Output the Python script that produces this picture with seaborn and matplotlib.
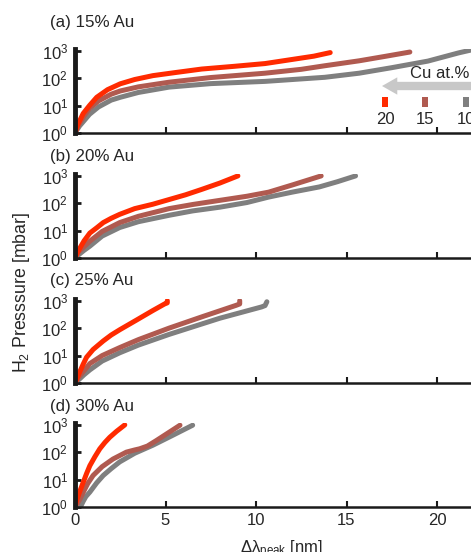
import numpy as np
import pandas as pd
import matplotlib
matplotlib.use("Agg")
import matplotlib.pyplot as plt
import seaborn as sns
from matplotlib.patches import Rectangle
from matplotlib.ticker import LogLocator, NullFormatter

sns.set_style("white")
plt.rcParams["font.family"] = ["Liberation Sans", "DejaVu Sans"]
plt.rcParams["mathtext.fontset"] = "custom"
plt.rcParams["mathtext.rm"] = "Liberation Sans"
plt.rcParams["mathtext.it"] = "Liberation Sans:italic"
plt.rcParams["mathtext.bf"] = "Liberation Sans:bold"
plt.rcParams["mathtext.default"] = "regular"

# ---------------- data ----------------
panel_titles = ["(a) 15% Au", "(b) 20% Au", "(c) 25% Au", "(d) 30% Au"]
cu_levels = ["10", "15", "20"]
cu_colors = ["#7f7f7f", "#b05a50", "#ff2a00"]
xticks = [0, 5, 10, 15, 20]
yticks = [1, 10, 100, 1000]
ytick_labels = ["$10^0$", "$10^1$", "$10^2$", "$10^3$"]

# (a) 15% Au
a_x_20 = [0, 0.15, 0.45, 0.8, 1.2, 1.8, 2.5, 3.3, 4.3, 5.5, 7.0, 8.8, 10.5, 12.0, 13.2, 14.1]
a_p_20 = [1, 2, 5.1, 10, 20, 38, 62, 89, 123, 158, 214, 269, 339, 479, 631, 851]
a_x_15 = [0, 0.2, 0.5, 0.8, 1.3, 2.0, 2.5, 3.5, 5.2, 7.5, 10.5, 12.5, 13.8, 15.7, 17.2, 18.5]
a_p_15 = [1, 2, 4.2, 7.9, 14.8, 26, 34, 48, 71, 105, 151, 209, 282, 427, 631, 891]
a_x_10 = [0, 0.25, 0.5, 0.8, 1.3, 2.0, 2.5, 3.5, 5.2, 7.5, 10.5, 13.8, 15.7, 17.5, 19.5, 21.2, 22.0]
a_p_10 = [1, 1.8, 2.8, 4.8, 8.9, 15.8, 20, 30, 47, 63, 76, 107, 151, 240, 417, 832, 1100]

# (b) 20% Au
b_x_20 = [0, 0.1, 0.27, 0.5, 0.82, 1.2, 1.56, 2.0, 2.47, 3.3, 4.3, 5.2, 6.1, 7.0, 8.0, 9.0]
b_p_20 = [1, 1.4, 2.3, 4.2, 8.1, 12.6, 19.5, 28, 39, 63, 91, 135, 200, 316, 537, 980]
b_x_15 = [0, 0.2, 0.5, 0.82, 1.5, 2.47, 3.5, 5.2, 6.5, 8.0, 9.5, 10.7, 12.0, 13.6]
b_p_15 = [1, 1.7, 2.6, 4.1, 9.3, 19.5, 33, 63, 89, 126, 178, 251, 457, 980]
b_x_10 = [0, 0.25, 0.5, 0.82, 1.5, 2.47, 3.5, 5.2, 6.5, 8.0, 9.5, 10.7, 12.0, 13.5, 14.5, 15.5]
b_p_10 = [1, 1.4, 1.9, 2.7, 6.3, 12.9, 21, 36, 52, 71, 105, 166, 251, 389, 603, 980]

# (c) 25% Au
c_x_20 = [0, 0.1, 0.27, 0.45, 0.64, 1.0, 1.56, 2.0, 2.47, 3.39, 4.3, 4.95, 5.1, 5.1]
c_p_20 = [1, 1.4, 2.6, 4.8, 8.7, 16.6, 34, 56, 87, 195, 437, 759, 832, 1000]
c_x_15 = [0, 0.2, 0.5, 0.82, 1.5, 2.47, 3.5, 5.2, 7.05, 8.9, 9.1, 9.1]
c_p_15 = [1, 1.6, 2.8, 5.1, 10, 19.5, 38, 100, 263, 676, 759, 1000]
c_x_10 = [0, 0.25, 0.5, 0.82, 1.5, 2.47, 3.5, 5.2, 8.0, 10.3, 10.5, 10.6]
c_p_10 = [1, 1.4, 2.0, 3.0, 6.3, 12.6, 24, 59, 229, 589, 661, 912]

# (d) 30% Au
d_x_20 = [0, 0.1, 0.25, 0.46, 0.64, 0.82, 1.1, 1.37, 1.65, 1.92, 2.3, 2.75]
d_p_20 = [1, 1.8, 3.5, 8.1, 16.6, 32, 68, 132, 224, 347, 575, 980]
d_x_15 = [0, 0.15, 0.3, 0.46, 0.7, 1.0, 1.5, 2.1, 2.84, 3.3, 3.57, 4.0, 4.49, 5.1, 5.8]
d_p_15 = [1, 1.4, 2.1, 3.5, 7.1, 14.1, 29.5, 56, 100, 120, 132, 166, 263, 479, 955]
d_x_10 = [0.3, 0.45, 0.6, 0.82, 1.2, 1.56, 2.0, 2.47, 3.3, 4.3, 5.3, 6.5]
d_p_10 = [1, 1.6, 2.4, 3.5, 7.6, 14.1, 25, 44, 91, 178, 380, 955]

series = {
    0: {"20": (a_x_20, a_p_20), "15": (a_x_15, a_p_15), "10": (a_x_10, a_p_10)},
    1: {"20": (b_x_20, b_p_20), "15": (b_x_15, b_p_15), "10": (b_x_10, b_p_10)},
    2: {"20": (c_x_20, c_p_20), "15": (c_x_15, c_p_15), "10": (c_x_10, c_p_10)},
    3: {"20": (d_x_20, d_p_20), "15": (d_x_15, d_p_15), "10": (d_x_10, d_p_10)},
}
rows = []
for pi, d in series.items():
    for cu, (xs, ps) in d.items():
        for i, (xv, pv) in enumerate(zip(xs, ps)):
            rows.append({"panel": pi, "cu": cu, "shift": xv, "pressure": pv, "i": i})
df = pd.DataFrame(rows)

# ---------------- figure ----------------
W, H = 471, 552
fig = plt.figure(figsize=(W / 100, H / 100), dpi=100)

def fx(px):
    return px / W

def fy(py):
    return 1 - py / H

left_px = 75
px_per_unit = 18.1
xmax = 25
ax_bottoms = [133, 258, 383, 507]
ax_h = 84
title_y = [22, 157, 281, 406]
FS = 12

palette = dict(zip(cu_levels, cu_colors))
axes = []
for k in range(4):
    b = ax_bottoms[k]
    ax = fig.add_axes([fx(left_px), fy(b), (xmax * px_per_unit) / W, ax_h / H])
    axes.append(ax)
    sub = df[df["panel"] == k]
    sns.lineplot(data=sub, x="shift", y="pressure", hue="cu", hue_order=cu_levels,
                 palette=palette, sort=False, estimator=None, units="cu",
                 linewidth=3.6, legend=False, ax=ax, solid_capstyle="round")
    ax.set_yscale("log")
    ax.set_ylim(1, 1150)
    ax.set_xlim(0, xmax)
    ax.set_xticks(xticks)
    ax.set_yticks(yticks)
    ax.set_yticklabels(ytick_labels)
    ax.yaxis.set_minor_locator(LogLocator(base=10, subs=np.arange(2, 10)))
    ax.yaxis.set_minor_formatter(NullFormatter())
    ax.set_xlabel("")
    ax.set_ylabel("")
    for s in ["top", "right"]:
        ax.spines[s].set_visible(False)
    ax.spines["left"].set_linewidth(3.5)
    ax.spines["left"].set_color("#1a1a1a")
    ax.spines["bottom"].set_linewidth(1.8)
    ax.spines["bottom"].set_color("#1a1a1a")
    ax.tick_params(axis="y", which="major", direction="in", length=4, width=2,
                   color="#1a1a1a", labelsize=FS, pad=5, left=True)
    ax.tick_params(axis="y", which="minor", direction="in", length=2.2, width=0.7,
                   color="#e0e0e0", left=True)
    ax.tick_params(axis="x", which="major", direction="in", length=4, width=1.5,
                   color="#1a1a1a", labelsize=FS, pad=4, bottom=True,
                   labelbottom=(k == 3))
    ax.set_facecolor("none")
    fig.text(fx(50), fy(title_y[k]), panel_titles[k], fontsize=12.2, ha="left", va="center")

# axis labels
fig.text(fx(22), fy(292), "H$_2$ Presssure [mbar]", rotation=90, fontsize=12.8,
         ha="center", va="center")
fig.text(fx(281), fy(538), "Δλ$_{peak}$ [nm]", fontsize=FS, ha="center", va="top")

# legend (Cu at.%) in panel (a)
fig.text(fx(410), fy(73), "Cu at.%", fontsize=FS, ha="left", va="center")
axes[0].annotate("", xy=(382, H - 86), xycoords="figure pixels",
                 xytext=(472, H - 86), textcoords="figure pixels",
                 arrowprops=dict(arrowstyle="simple,head_length=1.1,head_width=1.25,tail_width=0.6",
                                 color="#c8c8c8", lw=0, shrinkA=0, shrinkB=0),
                 annotation_clip=False)
leg_x = [385, 425, 466]
leg_order = ["20", "15", "10"]
for lx, lv in zip(leg_x, leg_order):
    r = Rectangle((fx(lx - 3), fy(107)), 6 / W, 10 / H, transform=fig.transFigure,
                  color=palette[lv], lw=0)
    fig.add_artist(r)
    fig.text(fx(lx), fy(119), lv, fontsize=FS, ha="center", va="center")

fig.savefig("out.png", dpi=100)
